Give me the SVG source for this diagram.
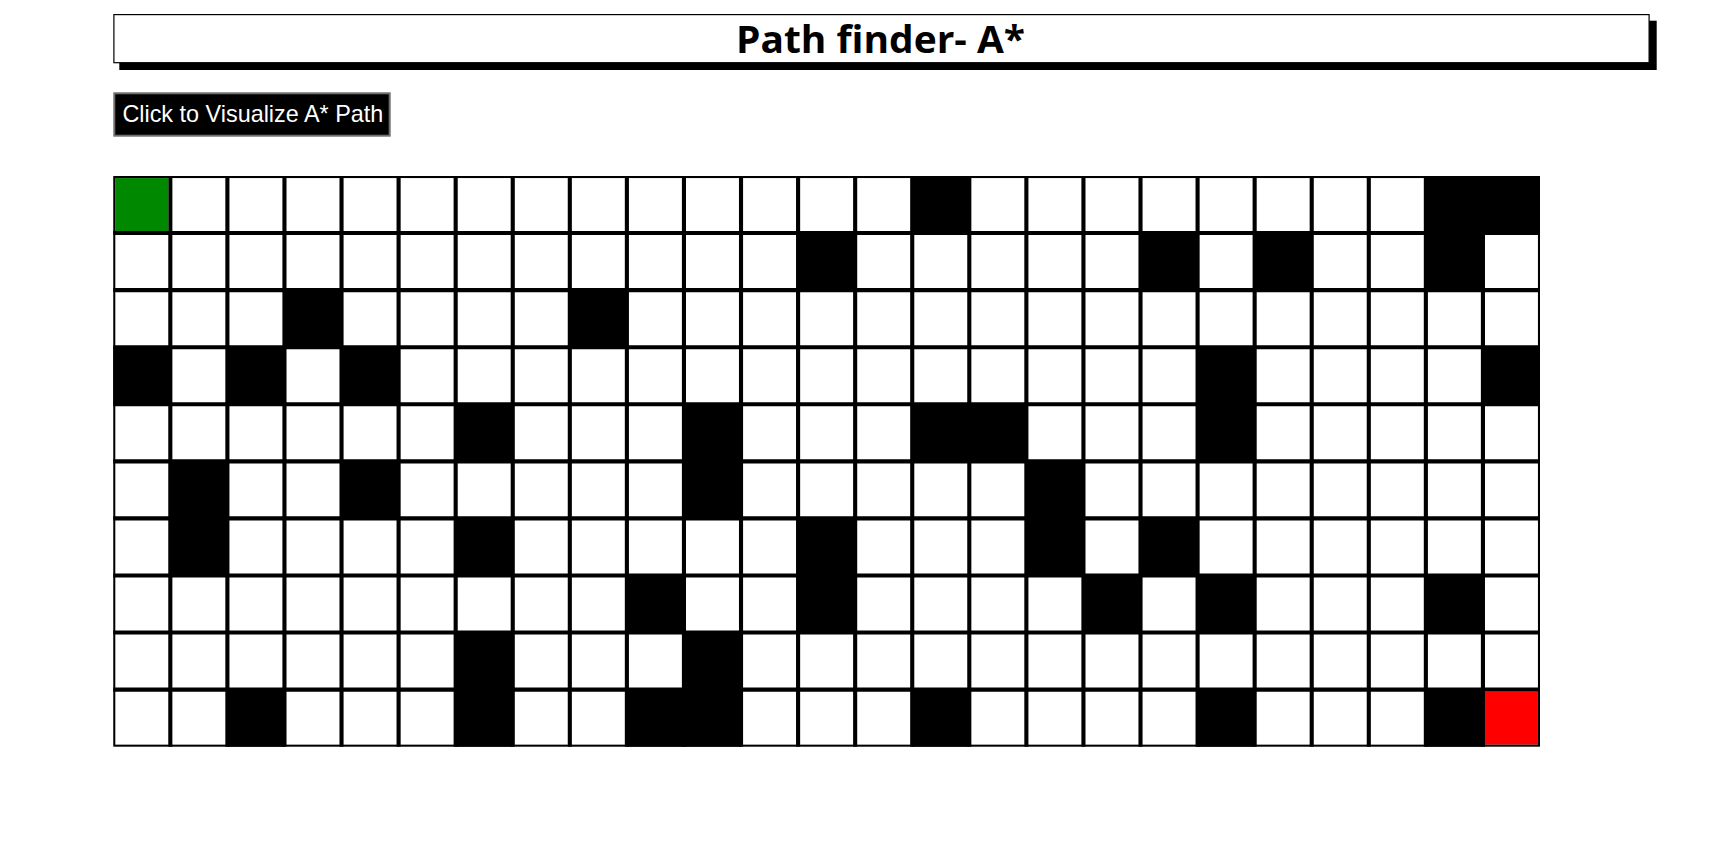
<svg xmlns="http://www.w3.org/2000/svg" width="1730" height="845" viewBox="0 0 1730 845">
<style>
.title{font-family:"Open Sans","Noto Sans","DejaVu Sans",sans-serif;font-weight:bold;font-size:37px;fill:#000}
.btn{font-family:"Liberation Sans",Arial,sans-serif;font-size:23.4px;fill:#fff}
.wall{fill:#000}
.lines{fill:none;stroke:#000;stroke-width:0.072}
</style>
<rect x="0" y="0" width="1730" height="845" fill="#fff"/>
<g id="title">
<rect x="119.3" y="20.7" width="1537.4" height="49.3" fill="#000"/>
<rect x="113.9" y="14.6" width="1535.2" height="48.1" fill="#fff" stroke="#000" stroke-width="1.2"/>
<text class="title" x="880.5" y="52.7" text-anchor="middle" textLength="289" lengthAdjust="spacingAndGlyphs">Path finder- A*</text>
</g>
<g id="button">
<rect x="114.3" y="93.3" width="275.4" height="42.4" fill="#000" stroke="#6e6e6e" stroke-width="2"/>
<text class="btn" x="122.4" y="122.3">Click to Visualize A* Path</text>
</g>
<g id="grid" transform="translate(113.25 176) scale(57.07)">
<rect x="0" y="0" width="25" height="10" fill="#fff"/>
<path class="lines" d="M1 0V10M2 0V10M3 0V10M4 0V10M5 0V10M6 0V10M7 0V10M8 0V10M9 0V10M10 0V10M11 0V10M12 0V10M13 0V10M14 0V10M15 0V10M16 0V10M17 0V10M18 0V10M19 0V10M20 0V10M21 0V10M22 0V10M23 0V10M24 0V10M0 1H25M0 2H25M0 3H25M0 4H25M0 5H25M0 6H25M0 7H25M0 8H25M0 9H25"/>
<g id="walls" class="wall">
<rect x="14" y="0" width="1" height="1"/><rect x="23" y="0" width="2" height="1"/>
<rect x="12" y="1" width="1" height="1"/><rect x="18" y="1" width="1" height="1"/><rect x="20" y="1" width="1" height="1"/><rect x="23" y="1" width="1" height="1"/>
<rect x="3" y="2" width="1" height="1"/><rect x="8" y="2" width="1" height="1"/>
<rect x="0" y="3" width="1" height="1"/><rect x="2" y="3" width="1" height="1"/><rect x="4" y="3" width="1" height="1"/><rect x="19" y="3" width="1" height="1"/><rect x="24" y="3" width="1" height="1"/>
<rect x="6" y="4" width="1" height="1"/><rect x="10" y="4" width="1" height="1"/><rect x="14" y="4" width="2" height="1"/><rect x="19" y="4" width="1" height="1"/>
<rect x="1" y="5" width="1" height="1"/><rect x="4" y="5" width="1" height="1"/><rect x="10" y="5" width="1" height="1"/><rect x="16" y="5" width="1" height="1"/>
<rect x="1" y="6" width="1" height="1"/><rect x="6" y="6" width="1" height="1"/><rect x="12" y="6" width="1" height="1"/><rect x="16" y="6" width="1" height="1"/><rect x="18" y="6" width="1" height="1"/>
<rect x="9" y="7" width="1" height="1"/><rect x="12" y="7" width="1" height="1"/><rect x="17" y="7" width="1" height="1"/><rect x="19" y="7" width="1" height="1"/><rect x="23" y="7" width="1" height="1"/>
<rect x="6" y="8" width="1" height="1"/><rect x="10" y="8" width="1" height="1"/>
<rect x="2" y="9" width="1" height="1"/><rect x="6" y="9" width="1" height="1"/><rect x="9" y="9" width="2" height="1"/><rect x="14" y="9" width="1" height="1"/><rect x="19" y="9" width="1" height="1"/><rect x="23" y="9" width="1" height="1"/>
</g>
<rect id="start" x="0.036" y="0.036" width="0.928" height="0.928" fill="#008800"/>
<rect id="end" x="24.036" y="9.036" width="0.928" height="0.928" fill="#ff0000"/>
<rect x="0.018" y="0.018" width="24.964" height="9.964" fill="none" stroke="#000" stroke-width="0.036"/>
</g>
</svg>
